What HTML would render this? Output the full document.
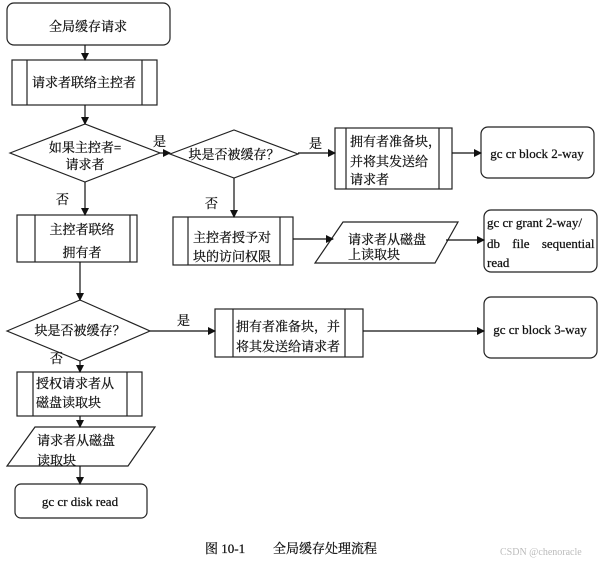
<!DOCTYPE html>
<html><head><meta charset="utf-8"><style>
html,body{margin:0;padding:0;background:#fff;}
svg text{font-family:"Liberation Serif","Noto Serif CJK SC",serif;font-size:13px;fill:#111;stroke:#111;stroke-width:0.25;}
</style></head><body>
<svg width="603" height="562" viewBox="0 0 603 562" xmlns="http://www.w3.org/2000/svg">
<defs><marker id="a" markerWidth="8" markerHeight="8" refX="7" refY="4" orient="auto" markerUnits="userSpaceOnUse"><path d="M0,0 L8,4 L0,8 Z" fill="#111"/></marker></defs>
<g fill="none" stroke="#222" stroke-width="1.2">
<rect x="7" y="3" width="163" height="42" rx="7"/>
<rect x="12" y="60" width="145" height="45"/><line x1="27" y1="60" x2="27" y2="105"/><line x1="142" y1="60" x2="142" y2="105"/>
<polygon points="10,153 85,124 160,153 85,182"/>
<polygon points="170,154 234,130 298,154 234,178"/>
<rect x="335" y="128" width="117" height="61"/><line x1="346" y1="128" x2="346" y2="189"/><line x1="439" y1="128" x2="439" y2="189"/>
<rect x="481" y="127" width="113" height="51" rx="7"/>
<rect x="17" y="215" width="120" height="47"/><line x1="35" y1="215" x2="35" y2="262"/><line x1="130" y1="215" x2="130" y2="262"/>
<rect x="173" y="217" width="120" height="48"/><line x1="188" y1="217" x2="188" y2="265"/><line x1="280" y1="217" x2="280" y2="265"/>
<polygon points="343,222 458,222 435,263 315,263"/>
<rect x="484" y="210" width="113" height="62" rx="7"/>
<polygon points="7,331 80,300 150,331 80,361"/>
<rect x="215" y="309" width="148" height="48"/><line x1="233" y1="309" x2="233" y2="357"/><line x1="345" y1="309" x2="345" y2="357"/>
<rect x="484" y="297" width="113" height="61" rx="7"/>
<rect x="17" y="372" width="125" height="44"/><line x1="33" y1="372" x2="33" y2="416"/><line x1="127" y1="372" x2="127" y2="416"/>
<polygon points="35,427 155,427 128,466 7,466"/>
<rect x="15" y="484" width="132" height="34" rx="6"/>
</g>
<g stroke="#111" stroke-width="1.2" fill="none" marker-end="url(#a)">
<line x1="85" y1="45" x2="85" y2="60"/>
<line x1="85" y1="105" x2="85" y2="124"/>
<line x1="160" y1="153" x2="170" y2="153"/>
<line x1="298" y1="153" x2="335" y2="153"/>
<line x1="452" y1="153" x2="481" y2="153"/>
<line x1="85" y1="182" x2="85" y2="215"/>
<line x1="234" y1="178" x2="234" y2="217"/>
<line x1="293" y1="239" x2="333" y2="239"/>
<line x1="446" y1="240" x2="484" y2="240"/>
<line x1="80" y1="262" x2="80" y2="300"/>
<line x1="150" y1="331" x2="215" y2="331"/>
<line x1="363" y1="331" x2="484" y2="331"/>
<line x1="80" y1="361" x2="80" y2="372"/>
<line x1="80" y1="416" x2="80" y2="427"/>
<line x1="80" y1="466" x2="80" y2="484"/>
</g>
<text x="88" y="31" text-anchor="middle">全局缓存请求</text>
<text x="84" y="87" text-anchor="middle">请求者联络主控者</text>
<text x="85" y="152" text-anchor="middle">如果主控者=</text>
<text x="85" y="169" text-anchor="middle">请求者</text>
<text x="153" y="146">是</text>
<text x="234" y="159" text-anchor="middle">块是否被缓存？</text>
<text x="309" y="148">是</text>
<text x="350" y="146">拥有者准备块，</text>
<text x="350" y="166">并将其发送给</text>
<text x="350" y="184">请求者</text>
<text x="537" y="158" text-anchor="middle">gc cr block 2-way</text>
<text x="56" y="204">否</text>
<text x="82" y="234" text-anchor="middle">主控者联络</text>
<text x="82" y="257" text-anchor="middle">拥有者</text>
<text x="205" y="208">否</text>
<text x="193" y="242">主控者授予对</text>
<text x="193" y="261">块的访问权限</text>
<text x="348" y="244">请求者从磁盘</text>
<text x="348" y="259">上读取块</text>
<text x="487" y="227">gc cr grant 2-way/</text>
<text x="487" y="248" style="word-spacing:9px">db file sequential</text>
<text x="487" y="267">read</text>
<text x="80" y="335" text-anchor="middle">块是否被缓存？</text>
<text x="177" y="325">是</text>
<text x="236" y="331">拥有者准备块，并</text>
<text x="236" y="351">将其发送给请求者</text>
<text x="540" y="334" text-anchor="middle">gc cr block 3-way</text>
<text x="50" y="363">否</text>
<text x="36" y="388">授权请求者从</text>
<text x="36" y="407">磁盘读取块</text>
<text x="37" y="445">请求者从磁盘</text>
<text x="37" y="465">读取块</text>
<text x="80" y="506" text-anchor="middle">gc cr disk read</text>
<text x="205" y="553">图 10-1</text>
<text x="273" y="553">全局缓存处理流程</text>
<text x="500" y="555" style="font-size:10px;fill:#bbb;stroke:none">CSDN @chenoracle</text>
</svg>
</body></html>
